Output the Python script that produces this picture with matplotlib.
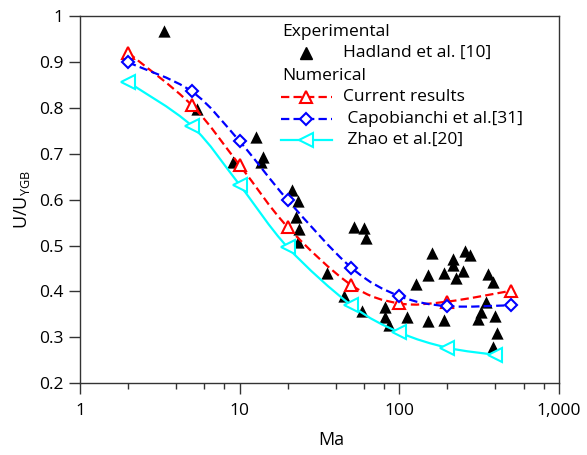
import matplotlib
matplotlib.use("Agg")
import matplotlib.pyplot as plt
import numpy as np
from matplotlib.path import Path
from matplotlib.patches import PathPatch
from matplotlib.lines import Line2D
from matplotlib.ticker import FixedLocator, FuncFormatter, LogLocator, NullFormatter

plt.rcParams['font.family'] = ['Open Sans', 'DejaVu Sans']
plt.rcParams['mathtext.default'] = 'regular'
plt.rcParams['lines.scale_dashes'] = False

# ---- data ----
hadland_ma = [3.36, 5.38, 9.04, 12.65, 13.7, 14.06, 21.2, 23.3, 22.5, 23.6, 23.3,
              52, 60, 61.8, 35.4, 45, 58.6, 81.2, 81.5, 86.4, 112, 127, 151.7, 151.7,
              160.7, 190, 190, 217.6, 217.6, 228, 249, 257.5, 277, 360, 387, 348, 327,
              312, 397, 410, 384]
hadland_u = [0.967, 0.798, 0.682, 0.736, 0.681, 0.693, 0.622, 0.597, 0.563, 0.537, 0.508,
             0.541, 0.539, 0.516, 0.441, 0.390, 0.358, 0.367, 0.345, 0.327, 0.344, 0.416,
             0.336, 0.436, 0.483, 0.441, 0.338, 0.470, 0.457, 0.4285, 0.445, 0.489, 0.479,
             0.439, 0.421, 0.378, 0.356, 0.339, 0.346, 0.309, 0.278]

current_ma = [2, 5, 10, 20, 50, 100, 200, 500]
current_u = [0.920, 0.806, 0.675, 0.540, 0.414, 0.374, 0.378, 0.4015]

capo_ma = [2, 5, 10, 20, 50, 100, 200, 500]
capo_u = [0.899, 0.836, 0.727, 0.599, 0.452, 0.390, 0.368, 0.370]

zhao_ma = [2, 5, 10, 20, 50, 100, 200, 400]
zhao_u = [0.856, 0.761, 0.632, 0.496, 0.370, 0.311, 0.2775, 0.262]

x_ticks = [1, 10, 100, 1000]
y_ticks = [0.2, 0.3, 0.4, 0.5, 0.6, 0.7, 0.8, 0.9, 1.0]

# ---- figure ----
W, H = 587, 455
fig = plt.figure(figsize=(W / 100, H / 100), dpi=100)
L, R, T, B = 80, 559, 16, 383.3
ax = fig.add_axes([L / W, 1 - B / H, (R - L) / W, (B - T) / H])
ax.set_xscale('log')
ax.set_xlim(1, 1000)
ax.set_ylim(0.2, 1.0)

spine_c = '#333333'
for s in ax.spines.values():
    s.set_color(spine_c)
    s.set_linewidth(1.0)

ax.xaxis.set_major_locator(FixedLocator(x_ticks))
ax.xaxis.set_major_formatter(FuncFormatter(lambda v, p: f"{v:,.0f}"))
ax.xaxis.set_minor_locator(LogLocator(base=10, subs=(2, 4, 6, 8)))
ax.xaxis.set_minor_formatter(NullFormatter())
ax.yaxis.set_major_locator(FixedLocator(y_ticks))
ax.yaxis.set_major_formatter(FuncFormatter(lambda v, p: f"{v:g}"))
ax.tick_params(which='major', direction='out', length=8, width=1, color=spine_c,
               labelsize=12.5, pad=4)
ax.tick_params(which='minor', direction='out', length=4.5, width=1, color=spine_c)
ax.tick_params(axis='x', which='major', pad=6)

ax.set_xlabel('Ma', fontsize=13)
ax.xaxis.set_label_coords((331 - L) / (R - L), -0.13)
ax.set_ylabel('U/U$_{YGB}$', fontsize=13, labelpad=5)


def smooth_path(xs, ys):
    u = np.log10(np.asarray(xs, float))
    v = np.asarray(ys, float)
    n = len(u)
    verts = [(xs[0], ys[0])]
    codes = [Path.MOVETO]
    for i in range(n - 1):
        i0 = max(i - 1, 0)
        i3 = min(i + 2, n - 1)
        c1u = u[i] + (u[i + 1] - u[i0]) / 6
        c1v = v[i] + (v[i + 1] - v[i0]) / 6
        c2u = u[i + 1] - (u[i3] - u[i]) / 6
        c2v = v[i + 1] - (v[i3] - v[i]) / 6
        verts += [(10 ** c1u, c1v), (10 ** c2u, c2v), (xs[i + 1], ys[i + 1])]
        codes += [Path.CURVE4] * 3
    return Path(verts, codes)


ax.scatter(hadland_ma, hadland_u, marker='^', s=78, color='black', zorder=2, linewidths=0)

LW = 1.6
series = [
    (current_ma, current_u, '#ff0000', (0, (6, 3)), '^', 8.5),
    (capo_ma, capo_u, '#0000ff', (0, (6, 3)), 'D', 6.5),
    (zhao_ma, zhao_u, '#00ffff', 'solid', '<', 9.5),
]
for xs, ys, c, ls, m, ms in series:
    p = PathPatch(smooth_path(xs, ys), facecolor='none', edgecolor=c, lw=LW,
                  linestyle=ls, zorder=3)
    ax.add_patch(p)
    ax.plot(xs, ys, linestyle='none', marker=m, ms=ms, mfc='white', mec=c, mew=1.5,
            zorder=4)

# ---- legend (manual) ----
def axc(px, py):
    return ((px - L) / (R - L), (B - py) / (B - T))

fs = 12.5
ax.text(*axc(282, 32.3), 'Experimental', transform=ax.transAxes, fontsize=fs, va='center')
ax.text(*axc(282, 75.7), 'Numerical', transform=ax.transAxes, fontsize=fs, va='center')
ax.add_line(Line2D([axc(306, 0)[0]], [axc(0, 52.5)[1]], transform=ax.transAxes,
                   marker='^', ms=8.5, color='black', linestyle='none'))
ax.text(*axc(342.7, 53.3), 'Hadland et al. [10]', transform=ax.transAxes, fontsize=fs,
        va='center')
leg_rows = [(97.3, '#ff0000', (0, (6, 3)), '^', 8.5, 'Current results'),
            (119, '#0000ff', (0, (6, 3)), 'D', 6.5, ' Capobianchi et al.[31]'),
            (140, '#00ffff', 'solid', '<', 9.5, ' Zhao et al.[20]')]
for py, c, ls, m, ms, lab in leg_rows:
    x0, yy = axc(281, py)
    x1, _ = axc(331.7, py)
    xm, _ = axc(306, py)
    ax.add_line(Line2D([x0, x1], [yy, yy], transform=ax.transAxes, color=c, lw=LW,
                       linestyle=ls))
    ax.add_line(Line2D([xm], [yy], transform=ax.transAxes, marker=m, ms=ms, mfc='white',
                       mec=c, mew=1.5, linestyle='none'))
    ax.text(*axc(342.7, py), lab, transform=ax.transAxes, fontsize=fs, va='center')

fig.savefig('out.png', dpi=100)
